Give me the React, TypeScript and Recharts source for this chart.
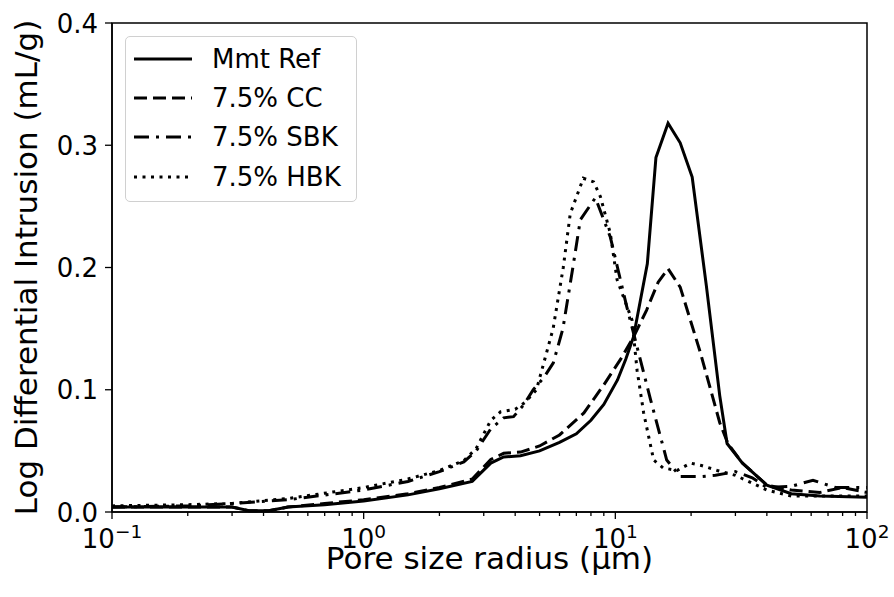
import { LineChart, Line, XAxis, YAxis, ReferenceArea, Legend, Label } from 'recharts';

// pore radius (µm) and log differential intrusion (mL/g)
const mmtX = [0.1, 0.2, 0.3, 0.35, 0.42, 0.5, 0.7, 1, 1.5, 2, 2.7, 3.2, 3.6, 4.2, 5, 6, 7, 8, 9, 10.2, 11, 11.8, 13.4, 14.5, 16.2, 18.1, 20.2, 23, 26, 27.8, 32, 40, 50, 65, 100];
const mmtY = [0.004, 0.004, 0.004, 0.001, 0.001, 0.004, 0.006, 0.009, 0.014, 0.019, 0.025, 0.04, 0.045, 0.046, 0.05, 0.057, 0.064, 0.075, 0.088, 0.108, 0.125, 0.143, 0.203, 0.29, 0.318, 0.302, 0.274, 0.185, 0.095, 0.056, 0.04, 0.022, 0.015, 0.013, 0.012];

const ccX = [0.1, 0.2, 0.3, 0.35, 0.42, 0.5, 0.7, 1, 1.5, 2, 2.7, 3.2, 3.6, 4.2, 5, 6, 7.5, 9, 10.5, 11.8, 13.3, 14.8, 16.2, 18.1, 20, 21.8, 26, 28, 32, 40, 50, 65, 80, 100];
const ccY = [0.004, 0.004, 0.004, 0.001, 0.001, 0.004, 0.007, 0.01, 0.015, 0.02, 0.027, 0.043, 0.048, 0.049, 0.054, 0.063, 0.081, 0.104, 0.125, 0.143, 0.165, 0.188, 0.199, 0.184, 0.155, 0.13, 0.073, 0.056, 0.04, 0.022, 0.018, 0.016, 0.02, 0.016];

const sbkX = [0.1, 0.2, 0.3, 0.5, 1, 1.5, 2, 2.5, 2.8, 3.2, 3.6, 3.94, 4.3, 4.72, 5.2, 5.67, 6.19, 6.78, 7.26, 8.33, 9.55, 10.2, 11.1, 12.2, 13.8, 16, 18.1, 22, 25, 30, 35, 40, 50, 61, 75, 100];
const sbkY = [0.004, 0.005, 0.007, 0.01, 0.018, 0.025, 0.033, 0.041, 0.05, 0.068, 0.077, 0.078, 0.087, 0.1, 0.11, 0.122, 0.15, 0.2, 0.239, 0.257, 0.225, 0.2, 0.168, 0.135, 0.092, 0.0425, 0.029, 0.029, 0.03, 0.033, 0.028, 0.02, 0.021, 0.026, 0.02, 0.02];

const hbkX = [0.1, 0.2, 0.3, 0.5, 1, 1.5, 2, 2.5, 2.8, 3.2, 3.5, 4, 4.4, 4.86, 5.66, 6.21, 6.62, 7.46, 8.2, 8.72, 9.55, 10.16, 11.65, 12.2, 12.96, 14.2, 15.5, 17.6, 19.9, 22, 25.4, 30, 40, 50, 65, 80, 100];
const hbkY = [0.005, 0.006, 0.007, 0.011, 0.02, 0.027, 0.034, 0.042, 0.052, 0.075, 0.082, 0.084, 0.09, 0.1, 0.15, 0.2, 0.244, 0.273, 0.27, 0.258, 0.228, 0.19, 0.157, 0.116, 0.081, 0.0425, 0.036, 0.034, 0.04, 0.038, 0.034, 0.03, 0.018, 0.013, 0.013, 0.013, 0.013];

const seriesNames = ['Mmt Ref', '7.5% CC', '7.5% SBK', '7.5% HBK'];

const majorX = [0.1, 1, 10, 100];
const minorX = [0.2, 0.3, 0.4, 0.5, 0.6, 0.7, 0.8, 0.9, 2, 3, 4, 5, 6, 7, 8, 9, 20, 30, 40, 50, 60, 70, 80, 90];
const yTicks = [0, 0.1, 0.2, 0.3, 0.4];

const FONT = '"DejaVu Sans", sans-serif';
const dashes = ['', '13 6', '15 7 3 7', '3 5.5'];

const rows = (xs: number[], ys: number[]) => xs.map((x, i) => ({ x, y: ys[i] }));
const seriesData = [rows(mmtX, mmtY), rows(ccX, ccY), rows(sbkX, sbkY), rows(hbkX, hbkY)];

const XTick = (props: any) => {
    const { x, y, payload } = props;
    const v = payload.value;
    const major = majorX.includes(v);
    const exp = Math.round(Math.log10(v));
    return (
        <g>
            <line x1={x} x2={x} y1={y} y2={y + (major ? 7 : 4)} stroke="#000" strokeWidth={1.3} />
            {major && (
                <text x={x} y={y + 36} textAnchor="middle" fontSize={26} fontFamily={FONT} fill="#000">
                    10<tspan dy={-10} fontSize={18.5}>{exp < 0 ? '\u2212' + Math.abs(exp) : exp}</tspan>
                </text>
            )}
        </g>
    );
};

const YTick = (props: any) => {
    const { x, y, payload } = props;
    return (
        <g>
            <line x1={x - 7} x2={x} y1={y} y2={y} stroke="#000" strokeWidth={1.3} />
            <text x={x - 14} y={y + 9.5} textAnchor="end" fontSize={26} fontFamily={FONT} fill="#000">
                {payload.value.toFixed(1)}
            </text>
        </g>
    );
};

const LegendBox = () => (
    <div style={{
        width: 232, height: 166, boxSizing: 'border-box', border: '1.5px solid #d0d0d0',
        borderRadius: 5, background: '#fff', paddingTop: 2, fontFamily: FONT,
    }}>
        {seriesNames.map((name, i) => (
            <div key={name} style={{ height: 39.3, display: 'flex', alignItems: 'center' }}>
                <svg width={86} height={20} style={{ flex: 'none' }}>
                    <line x1={8} x2={66} y1={10} y2={10} stroke="#000" strokeWidth={3} strokeDasharray={dashes[i]} />
                </svg>
                <span style={{ fontSize: 26, color: '#000', lineHeight: 1 }}>{name}</span>
            </div>
        ))}
    </div>
);

export default function App() {
    return (
        <div style={{ position: 'absolute', left: 0, top: 0, fontFamily: FONT }}>
            <LineChart width={894} height={597} margin={{ top: 23, right: 27, left: 0, bottom: 0 }}>
                <XAxis
                    dataKey="x" type="number" scale="log" domain={[0.1, 100]} allowDataOverflow
                    ticks={[...majorX, ...minorX]} interval={0} tick={<XTick />}
                    tickLine={false} tickSize={0} tickMargin={0} height={85}
                    axisLine={{ stroke: '#000', strokeWidth: 1.5 }}
                >
                    <Label
                        content={(p: any) => {
                            const vb = p.viewBox;
                            return (
                                <text x={vb.x + vb.width / 2} y={vb.y + 57} textAnchor="middle" fontSize={31} fontFamily={FONT} fill="#000">
                                    Pore size radius (µm)
                                </text>
                            );
                        }}
                    />
                </XAxis>
                <YAxis
                    type="number" domain={[0, 0.4]} ticks={yTicks} interval={0} tick={<YTick />}
                    tickLine={false} tickSize={0} tickMargin={0} width={112}
                    axisLine={{ stroke: '#000', strokeWidth: 1.5 }}
                >
                    <Label
                        content={(p: any) => {
                            const vb = p.viewBox;
                            return (
                                <text transform={`translate(37, ${vb.y + vb.height / 2}) rotate(-90)`} textAnchor="middle" fontSize={31} fontFamily={FONT} fill="#000">
                                    Log Differential Intrusion (mL/g)
                                </text>
                            );
                        }}
                    />
                </YAxis>
                <ReferenceArea x1={0.1} x2={100} y1={0} y2={0.4} fill="none" stroke="#000" strokeWidth={1.5} />
                {seriesNames.map((name, i) => (
                    <Line
                        key={name} data={seriesData[i]} dataKey="y" name={name} type="linear"
                        stroke="#000" strokeWidth={3} strokeDasharray={dashes[i] || undefined}
                        dot={false} activeDot={false} isAnimationActive={false}
                    />
                ))}
                <Legend
                    layout="vertical" verticalAlign="middle" align="center"
                    wrapperStyle={{ position: 'absolute', left: 125, top: 36, width: 232, height: 166 }}
                    content={() => <LegendBox />}
                />
            </LineChart>
        </div>
    );
}
